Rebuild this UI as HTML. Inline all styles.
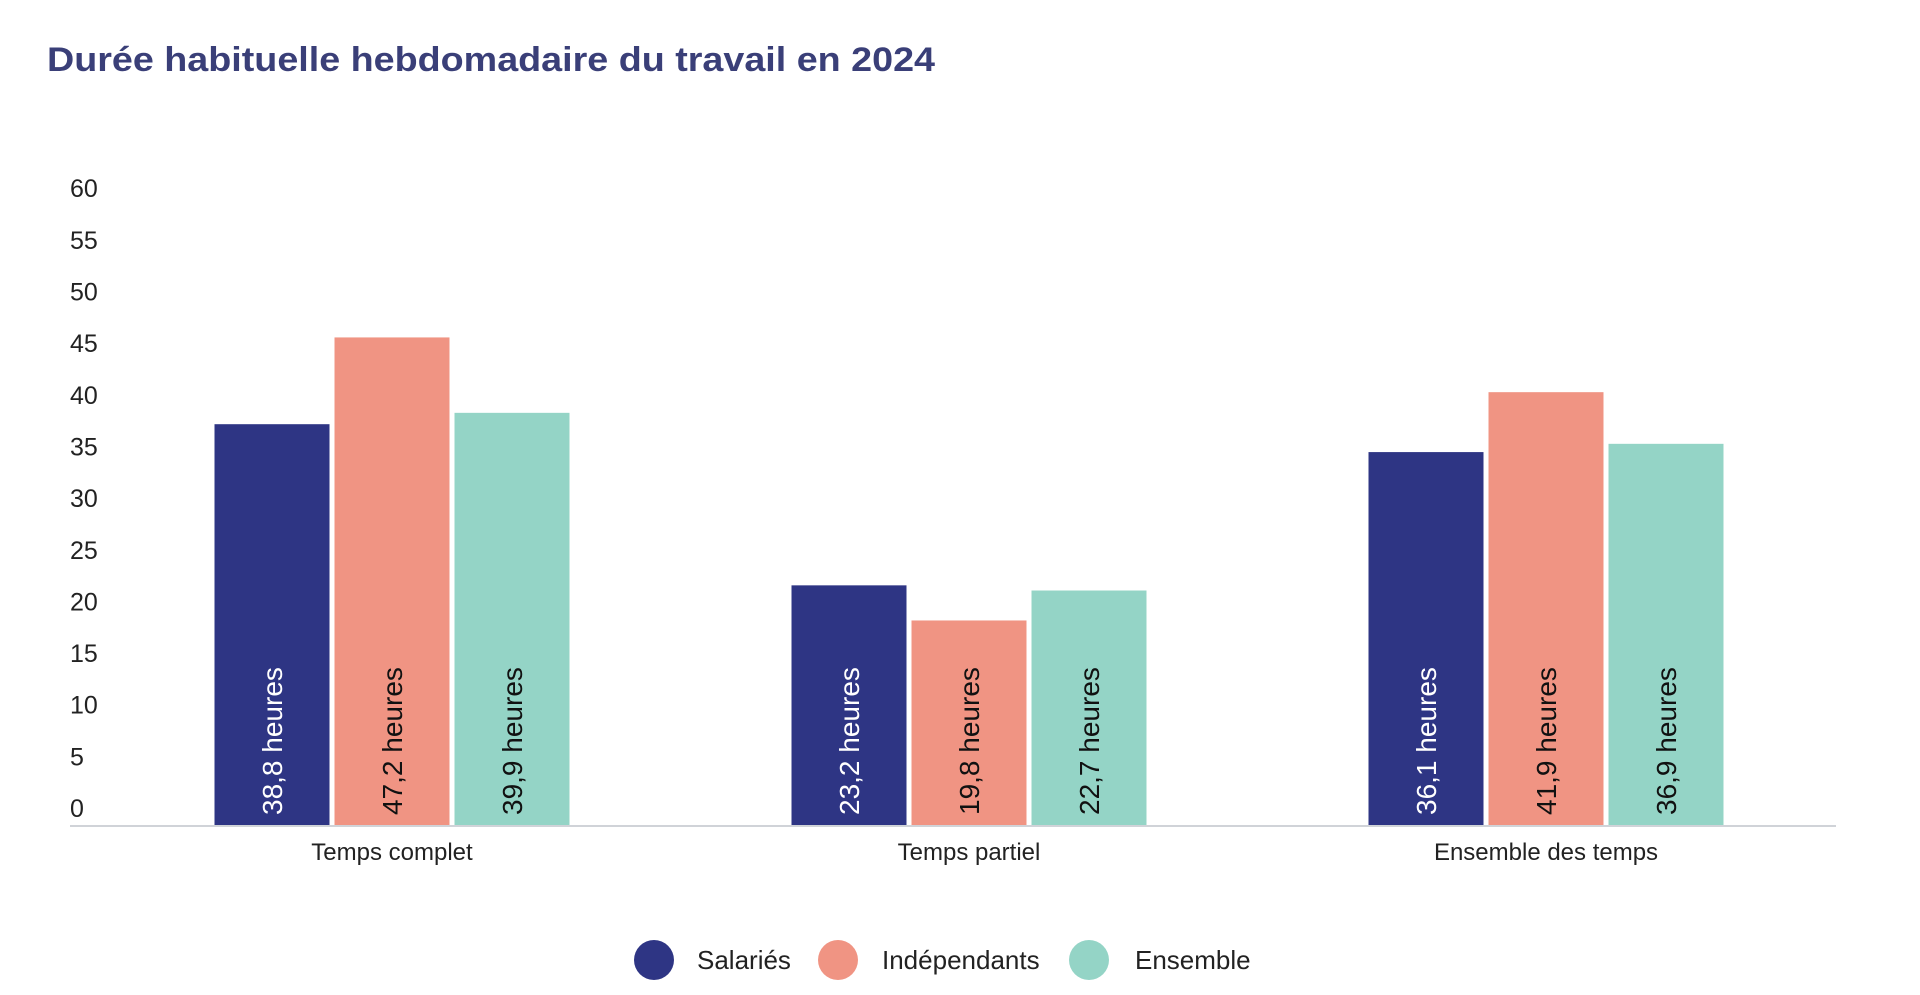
<!DOCTYPE html>
<html><head><meta charset="utf-8"><style>
body{margin:0;background:#fff;}
svg{display:block;font-family:"Liberation Sans",Arial,sans-serif;}
</style></head><body>
<svg id="chart" width="1920" height="995">
<text x="47" y="71" font-size="34" font-weight="bold" fill="#3a3f78" textLength="888" lengthAdjust="spacingAndGlyphs">Durée habituelle hebdomadaire du travail en 2024</text>
<g id="yaxis"></g>
<g id="bars"></g>
<g id="xaxis"></g>
<g id="legend"></g>
</svg>
<script>
const categories = ["Temps complet", "Temps partiel", "Ensemble des temps"];
const seriesNames = ["Salariés", "Indépendants", "Ensemble"];
const salaries = [38.8, 23.2, 36.1];
const independants = [47.2, 19.8, 41.9];
const ensemble = [39.9, 22.7, 36.9];
const valueLabels = [["38,8 heures","23,2 heures","36,1 heures"],["47,2 heures","19,8 heures","41,9 heures"],["39,9 heures","22,7 heures","36,9 heures"]];
const yTicks = [0,5,10,15,20,25,30,35,40,45,50,55,60];

const NS="http://www.w3.org/2000/svg";
const colors=["#2e3584","#f09483","#94d4c6"];
const textColors=["#ffffff","#111111","#111111"];
const series=[salaries,independants,ensemble];
const base=825, k=10.33;
const y=v=>base-v*k;
const groupCenter=i=>392+i*577;
const bw=115, gap=5;
function mk(tag,attrs,parent){const e=document.createElementNS(NS,tag);for(const a in attrs)e.setAttribute(a,attrs[a]);parent.appendChild(e);return e;}

const ya=document.getElementById('yaxis');
yTicks.forEach(t=>{
  const e=mk('text',{x:70,y:y(t)-8,'font-size':25,fill:'#222'},ya);
  
  
  e.textContent=t;
});
const xa=document.getElementById('xaxis');
const ln=mk('line',{x1:70,x2:1836,y1:base+1,y2:base+1,stroke:'#d0d3d8','stroke-width':2},xa);


categories.forEach((c,i)=>{
  const e=mk('text',{x:groupCenter(i),y:860,'font-size':24,fill:'#222','text-anchor':'middle'},xa);
  
  
  e.textContent=c;
});
const bg=document.getElementById('bars');
series.forEach((s,si)=>{
  s.forEach((v,i)=>{
    const x=groupCenter(i)+(si-1)*(bw+gap)-bw/2;
    const r=mk('rect',{x:x,y:y(v),width:bw,height:base-y(v),fill:colors[si]},bg);
    
    
    const cx=x+bw/2+10, cy=base-10;
    const t=mk('text',{x:cx,y:cy,'font-size':28,fill:textColors[si],transform:`rotate(-90 ${cx} ${cy})`},bg);
    
    
    t.textContent=valueLabels[si][i];
  });
});
const lg=document.getElementById('legend');
const lx=[[654,697],[838,882],[1089,1135]];
seriesNames.forEach((n,i)=>{
  const c=mk('circle',{cx:lx[i][0],cy:960,r:20,fill:colors[i]},lg);
  
  
  const t=mk('text',{x:lx[i][1],y:969,'font-size':26,fill:'#222'},lg);
  
  
  t.textContent=n;
});
</script>
</body></html>
